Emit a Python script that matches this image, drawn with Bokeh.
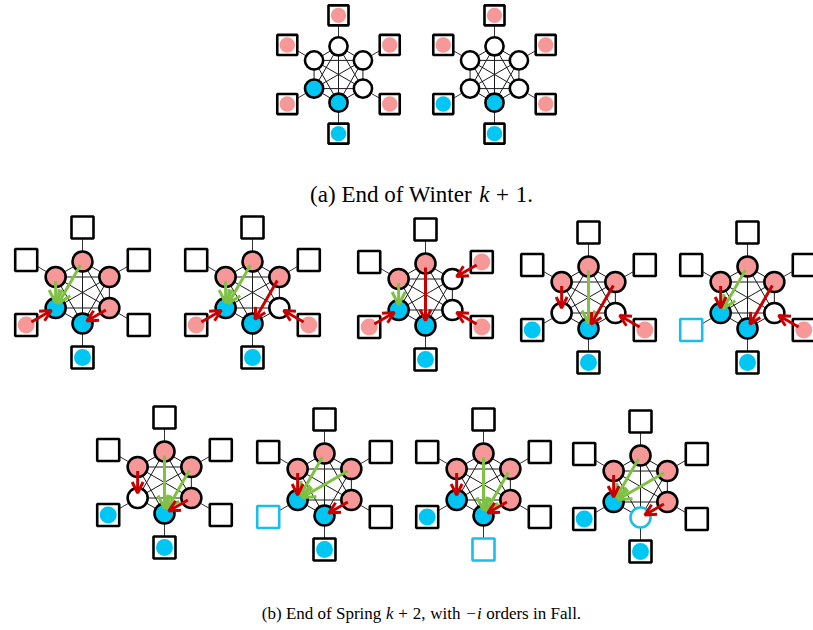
import math
from bokeh.plotting import figure
from bokeh.models import ColumnDataSource, Arrow, OpenHead, Range1d
from bokeh.embed import file_html
from bokeh.resources import INLINE
from bokeh.core.properties import value

# ---------------- data ----------------
# slot order inside each panel: top, upper-right, lower-right, bottom, lower-left, upper-left
# inner node states: w = white, p = pink, b = blue, c = white with cyan ring
panel_ids = ["a1", "a2", "b1", "b2", "b3", "b4", "b5", "b6", "b7", "b8", "b9"]
inner_states = ["wwwbbw", "wwwbww", "pppbbp", "ppwbbp", "pwwbbp", "ppwbwp",
                "ppwbbp", "pppbwp", "pppbbp", "pppbbp", "pppcbp"]
# outer square states: e = empty, p = pink dot, b = blue dot, c = empty cyan square
outer_states = ["pppbpp", "pppbbp", "eeebpe", "eepbpe", "eppbpe", "eepbbe",
                "eepbce", "eeebbe", "eeebce", "eeecbe", "eeebbe"]
# moves "src-dst": integer = inner slot, "oN" = outer square N
green_moves = [[], [], ["0-4", "5-4"], ["0-4", "5-4"], ["5-4"], ["0-3"], ["0-4"],
               ["0-3", "1-3"], ["0-4", "1-4"], ["0-3", "1-3"], ["0-4", "1-4"]]
red_moves = [[], [], ["o4-4", "2-3"], ["o4-4", "1-3", "o2-2"],
             ["0-3", "o4-4", "o1-1", "o2-2"], ["5-4", "1-3", "o2-2"],
             ["5-4", "1-3", "o2-2"], ["5-4", "2-3"], ["5-4", "2-3"],
             ["5-4", "2-3"], ["5-4", "2-3"]]
# caption pieces: (text, italic)
caption_a = [("(a) End of Winter", False), ("k", True), ("+", False), ("1.", False)]
caption_b = [("(b) End of Spring", False), ("k", True), ("+", False), ("2,", False),
             ("with", False), ("\u2212", False), ("i", True), ("orders in Fall.", False)]

# ---------------- layout / style ----------------
centers = [(338, 74), (494, 74), (82, 292), (252, 292), (425, 294), (588, 297),
           (747, 297), (164, 482), (324, 484), (483, 484), (640, 486)]
scales = [0.91, 0.91] + [1.0] * 9
R_IN, R_OUT = 31, 65
ANG = [90, 30, -30, -90, -150, 150]

PINK = "#F69798"
BLUE = "#00C6F4"
CYAN = "#1BBDEB"
RED = "#C90000"
GREEN = "#7EC143"

p = figure(width=813, height=630, x_range=Range1d(0, 813), y_range=Range1d(630, 0),
           output_backend="svg", toolbar_location=None, min_border=0,
           x_axis_location=None, y_axis_location=None)
p.grid.visible = False
p.outline_line_color = None
p.background_fill_color = "white"


def pos(k, slot, outer=False):
    cx, cy = centers[k]
    s = scales[k]
    r = (R_OUT if outer else R_IN) * s
    a = math.radians(ANG[slot])
    return cx + r * math.cos(a), cy - r * math.sin(a)


# edges (complete graph) and spokes
ex0, ey0, ex1, ey1 = [], [], [], []
sx0, sy0, sx1, sy1 = [], [], [], []
for k in range(len(panel_ids)):
    for i in range(6):
        for j in range(i + 1, 6):
            a = pos(k, i); b = pos(k, j)
            ex0.append(a[0]); ey0.append(a[1]); ex1.append(b[0]); ey1.append(b[1])
        a = pos(k, i); b = pos(k, i, True)
        sx0.append(a[0]); sy0.append(a[1]); sx1.append(b[0]); sy1.append(b[1])
p.segment(ex0, ey0, ex1, ey1, line_color="#1a1a1a", line_width=1)
p.segment(sx0, sy0, sx1, sy1, line_color="#333333", line_width=1)

# outer squares and dots
qx, qy, qsize, qline = [], [], [], []
dx, dy, dsize, dcol = [], [], [], []
for k in range(len(panel_ids)):
    s = scales[k]
    for slot, st in enumerate(outer_states[k]):
        x, y = pos(k, slot, True)
        qx.append(x); qy.append(y); qsize.append(22 * s)
        qline.append(CYAN if st == "c" else "black")
        if st in "pb":
            dx.append(x); dy.append(y); dsize.append(17 * s)
            dcol.append(PINK if st == "p" else BLUE)
p.scatter(x=qx, y=qy, size=qsize, marker="square", fill_color="white",
          line_color=qline, line_width=2.6)
p.scatter(x=dx, y=dy, size=dsize, marker="circle", fill_color=dcol, line_color=None)

# inner nodes
nx, ny, nsize, nfill, nline = [], [], [], [], []
fills = {"w": "white", "p": PINK, "b": BLUE, "c": "white"}
for k in range(len(panel_ids)):
    s = scales[k]
    for slot, st in enumerate(inner_states[k]):
        x, y = pos(k, slot)
        nx.append(x); ny.append(y); nsize.append(20 * s)
        nfill.append(fills[st])
        nline.append(CYAN if st == "c" else "black")
p.scatter(x=nx, y=ny, size=nsize, marker="circle", fill_color=nfill,
          line_color=nline, line_width=2.6)


# arrows
def arrow_data(moves_list):
    x0, y0, x1, y1 = [], [], [], []
    for k, moves in enumerate(moves_list):
        for mv in moves:
            src, dst = mv.split("-")
            if src.startswith("o"):
                a = pos(k, int(src[1:]), True); off0 = 6
            else:
                a = pos(k, int(src)); off0 = 4
            b = pos(k, int(dst))
            L = math.hypot(b[0] - a[0], b[1] - a[1])
            ux, uy = (b[0] - a[0]) / L, (b[1] - a[1]) / L
            x0.append(a[0] + ux * off0); y0.append(a[1] + uy * off0)
            x1.append(b[0] - ux * 5); y1.append(b[1] - uy * 5)
    return ColumnDataSource(dict(x0=x0, y0=y0, x1=x1, y1=y1))


for moves, col, hs in ((green_moves, GREEN, 13), (red_moves, RED, 11)):
    src = arrow_data(moves)
    p.add_layout(Arrow(end=OpenHead(size=hs, line_color=col, line_width=3),
                       x_start="x0", y_start="y0", x_end="x1", y_end="y1",
                       line_color=col, line_width=3, source=src))

# captions: place each piece separately with TeX-like spacing (Times metrics)
W = {' ': 250, '(': 333, ')': 333, 'a': 444, 'b': 500, 'E': 611, 'n': 500, 'd': 500,
     'o': 500, 'f': 333, 'W': 944, 'i': 278, 't': 278, 'e': 444, 'r': 333, '+': 564,
     '1': 500, '.': 250, 'S': 556, 'p': 500, 'g': 500, '2': 500, ',': 250, 'w': 722,
     'h': 500, '\u2212': 564, 's': 389, 'F': 556, 'l': 278, 'k': 444}
GAP_AFTER = {"k": 0.22, "+": 0.22, "\u2212": 0.0}


def caption(pieces, cx, y, size):
    widths = []
    gaps = []
    for t, it in pieces:
        w = sum(W.get(c, 500) for c in t) / 1000.0
        if t in ("+", "\u2212"):
            w = 0.7
        widths.append(w * size)
        gaps.append(GAP_AFTER.get(t, 0.27) * size)
    # no gap after the last piece; operator binds tighter before number
    gaps[-1] = 0
    for i, (t, it) in enumerate(pieces):
        if i + 1 < len(pieces) and pieces[i + 1][0] == "+":
            gaps[i] = 0.22 * size
    total = sum(widths) + sum(gaps)
    x = cx - total / 2
    for (t, it), w, g in zip(pieces, widths, gaps):
        if t in ("+", "\u2212"):
            p.text(x=[x + w / 2], y=[y], text=[t], text_font=value("Liberation Serif"),
                   text_font_size=f"{size}px", text_baseline="alphabetic",
                   text_align="center", text_color="black")
        else:
            p.text(x=[x], y=[y], text=[t], text_font=value("Liberation Serif"),
                   text_font_size=f"{size}px", text_baseline="alphabetic",
                   text_align="left", text_color="black",
                   text_font_style="italic" if it else "normal")
        x += w + g


caption(caption_a, 421, 194, 23)
caption(caption_b, 421, 613, 17)

open("out.html", "w").write(file_html(p, INLINE))
